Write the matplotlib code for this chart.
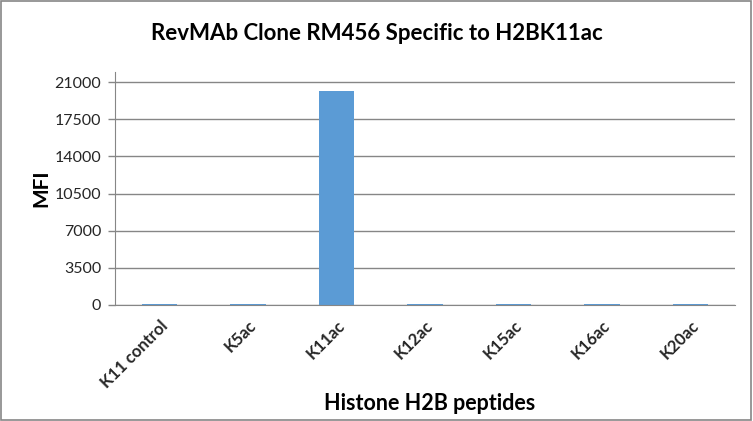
import matplotlib
matplotlib.use("Agg")
import matplotlib.pyplot as plt
from matplotlib.patches import Rectangle

categories = ["K11 control", "K5ac", "K11ac", "K12ac", "K15ac", "K16ac", "K20ac"]
values = [120, 110, 20150, 100, 100, 100, 100]
yticks = [0, 3500, 7000, 10500, 14000, 17500, 21000]

plt.rcParams['font.family'] = ['Lato', 'DejaVu Sans']

fig = plt.figure(figsize=(7.53, 4.21), dpi=100)
W, H = 753, 421
left, right, bottom, top = 115, 735, 305, 72
ax = fig.add_axes([left / W, 1 - bottom / H, (right - left) / W, (bottom - top) / H])

x = list(range(len(categories)))
ax.bar(x, values, width=0.4, color="#5B9BD5", zorder=3)
ax.set_xlim(-0.5, len(categories) - 0.5)
ax.set_ylim(0, 21950)
ax.set_yticks(yticks)
ax.set_yticklabels([str(v) for v in yticks], fontsize=11.5, color="#262626")
ax.set_xticks(x)
ax.set_xticklabels(categories, rotation=45, ha="right", rotation_mode="anchor",
                   fontsize=12, fontweight="bold", color="#262626")
ax.tick_params(axis="x", length=0, pad=9)
ax.tick_params(axis="y", length=5, color="#868686", width=1, pad=5)
ax.grid(axis="y", color="#868686", linewidth=1, zorder=0)
for s in ["top", "right"]:
    ax.spines[s].set_visible(False)
ax.spines["left"].set_color("#868686")
ax.spines["bottom"].set_color("#868686")
ax.spines["bottom"].set_zorder(4)

fig.text(41.5 / W, 1 - 188 / H, "MFI", rotation=90, ha="center", va="center",
         fontsize=15, fontweight="bold", color="#000000")
fig.text(377 / W, 1 - 33 / H, "RevMAb Clone RM456 Specific to H2BK11ac", ha="center",
         va="center", fontsize=16, fontweight="bold", color="#000000")
fig.text(430 / W, 1 - 404 / H, "Histone H2B peptides", ha="center", va="center",
         fontsize=15.5, fontweight="bold", color="#000000")

fig.patches.append(Rectangle((0.001, 0.002), 0.997, 0.996, transform=fig.transFigure,
                             fill=False, edgecolor="#868686", linewidth=1.2))

fig.savefig("out.png", dpi=100)
